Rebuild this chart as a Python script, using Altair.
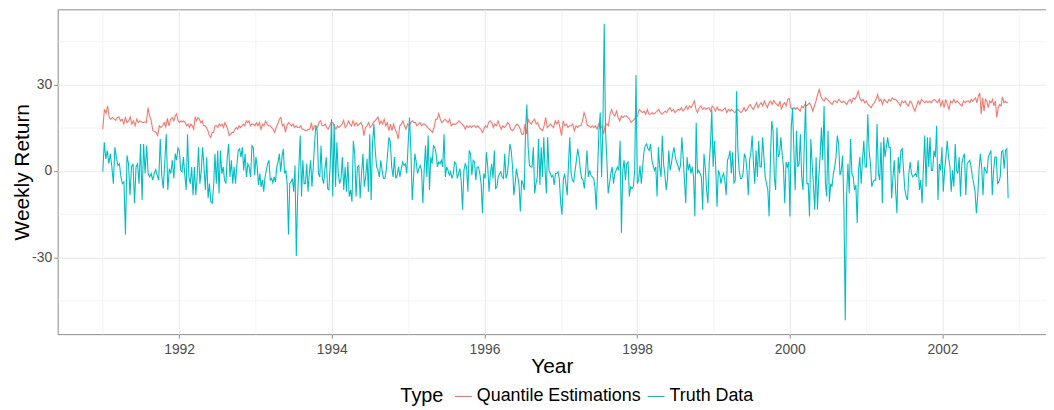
import altair as alt
import pandas as pd

# Segment start years (each segment holds roughly one year of weekly readings)
SEG_START = [1991.0, 1991.931, 1992.972, 1994.013, 1995.054, 1996.095,
             1997.135, 1998.176, 1999.217, 2000.258, 2001.299, 2002.340]
LAST_YEAR = 2002.86

TRUTH_SEGS = [
    [-0.3, 10.0, 4.2, 7.1, 2.5, 6.0, 1.4, -4.4, 8.2, 4.8, 1.9, 2.5, -2.1, -4.4, -3.8, -22.1, 5.4, 2.5, -8.4, 1.4,
     2.5, -11.2, 1.4, 2.5, -4.4, 9.4, -10.1, 9.4, -0.9, 8.8, -0.9, -2.1, -0.9, -3.2, -0.9, 0.5, -1.5, -3.2, 11.1,
     -1.5, -6.1, 3.1, 12.8, -6.6, 0.8, -0.9, 3.7],
    [-2.6, 6.0, 3.7, 8.0, 7.1, 0.2, -0.3, 4.8, -1.5, -6.6, 12.8, -2.1, -4.4, 1.4, -8.4, 1.4, -8.4, -2.1, 8.2, -4.4,
     0.2, 8.2, 1.4, -6.6, 4.8, -9.5, -4.4, -10.7, -11.2, -5.5, 6.0, -4.4, 7.1, -7.8, 7.1, -0.9, 1.4, -3.2, -4.4, 4.8,
     9.4, -2.1, 3.7, -4.4, 1.4, -4.4, 1.9, 7.1, 7.7, 4.8, 8.2, 0.2, 6.0, -2.1, 2.5, 1.4, -2.1, 8.8],
    [8.2, -1.5, 4.8, 1.4, -4.9, -0.9, -5.5, -3.2, -7.2, -2.1, 0.2, 2.5, 3.7, -3.2, -2.6, -4.1, -2.1, -3.8, 1.4, 3.1,
     6.0, -0.3, 4.8, 7.7, -0.9, 0.2, -4.4, -22.1, -4.4, -3.8, -2.6, -7.2, 1.9, -29.6, -8.9, 1.4, 12.3, -8.9, 3.7, -4.4,
     -4.4, 2.5, -7.2, -0.9, 3.7, -5.5, 1.4, 9.4, 15.7, 14.0, -0.9, -2.1, 8.8, -2.6, -4.4, 0.8, 4.8, -6.1, -6.6, 1.9, 18.0],
    [-8.9, 16.3, -5.5, 10.0, -0.9, -4.4, -2.6, 4.8, -6.6, 1.4, -7.2, 3.1, -8.9, -6.6, -10.7, 10.5, 6.0, -8.9, 1.4, 1.9,
     -9.5, -0.9, 6.0, -5.5, -2.1, 4.2, -7.2, 12.8, -10.1, 9.4, 16.3, 7.1, 1.4, 0.2, -2.1, 3.7, 0.2, -2.6, -2.6, 0.2,
     6.0, 11.7, 10.0, 1.4, -2.1, 4.8, -2.6, -1.5, 1.4, -2.1, 0.8, 3.1, 1.9, 2.5, -0.9, 9.4, 18.6, 7.1],
    [-10.1, -2.1, 6.0, 3.1, -0.9, 0.8, 1.9, 0.2, -11.2, 0.2, 8.8, -2.1, 12.3, -6.6, 4.8, 2.5, 8.8, 8.2, 6.0, 1.4,
     3.1, 2.5, 3.7, 1.4, 12.8, -2.1, 1.4, 0.2, -1.5, -0.3, -2.6, -0.9, 3.1, 2.5, -2.6, -0.9, 0.8, -3.8, -13.5, 0.2,
     2.5, 1.4, -7.2, 7.1, 6.0, -1.5, 3.7, 3.1, -3.2, 1.4, 1.4, -0.9, -4.4, -14.7, -0.9, -2.6, 6.5, 1.4, -7.2, -0.9],
    [2.5, -2.6, 7.1, -6.1, -5.5, -2.1, -0.9, -0.3, -2.1, -2.6, 6.0, -2.6, -0.9, 3.7, 9.4, 7.1, 1.4, -8.4, -4.4, 0.8,
     -2.1, -4.9, -14.1, -3.2, -4.4, -6.6, 14.0, 23.1, 8.2, 1.9, 1.4, 1.4, 8.2, -7.8, -4.4, -2.1, 11.1, -4.9, 8.2, -2.1,
     11.7, 0.2, -7.8, 11.7, 0.2, -0.9, -2.1, -1.5, -4.9, -0.9, -0.9, -0.3, -3.2, -11.2, -15.2, -3.2, -0.9, -4.4, -8.4,
     2.5, 11.7],
    [-0.9, -3.2, -3.8, 0.2, 3.7, 7.7, 4.8, 0.2, -2.6, -3.2, -6.1, 0.2, 7.1, -2.1, 0.2, -1.5, -2.1, -2.6, -5.5, -13.5,
     0.2, 14.0, 20.3, -2.1, 15.1, 51.2, 14.0, 3.7, -7.8, -4.4, -0.9, 1.4, -4.4, -0.9, 0.2, 1.4, 0.2, 10.5, -21.5, 0.2,
     3.7, -3.2, 2.5, 3.1, -8.9, -5.5, -6.1, -5.5, 0.2, 33.4, -4.4, -3.2, 1.9, -4.4, 1.4, 6.5, 8.8, 9.4, 7.7, 7.1],
    [9.4, 3.7, 1.9, 0.2, 1.4, -8.9, 8.2, 1.4, -2.1, 12.3, 2.5, -1.5, -6.6, -2.6, 7.1, 0.2, 2.5, 6.0, 8.2, 4.8,
     3.1, 1.9, 0.2, 1.9, 11.7, 4.8, -3.2, -11.2, 4.8, 0.2, 2.5, -0.9, 1.4, -2.1, -15.8, 16.8, -0.9, 0.2, -0.9, -2.1,
     -13.5, 6.0, 1.4, -6.6, -11.2, 2.5, 9.4, 21.4, 1.4, 10.5, 1.4, -12.4, 0.2, -0.9, -4.4, -2.1, -0.9, -3.2, -8.4, 3.7, 4.8],
    [7.1, -0.9, 6.5, -4.4, -3.2, 27.7, 7.7, 0.2, -2.6, -2.6, -0.9, 6.0, 4.8, 0.2, -8.4, 3.7, 6.5, 12.3, 2.5, -4.4,
     7.1, -2.1, 10.5, 1.4, 1.4, 11.7, 4.8, -2.1, -4.4, -6.6, -15.8, 3.7, 17.4, 14.0, -2.1, -6.6, 15.1, 4.8, 6.0, 11.7,
     6.0, 1.4, -11.2, 3.1, 1.4, 3.1, -15.8, 15.1, 22.0, 7.1, -6.6, 14.0, 1.4, 2.5, 12.8, -2.1, -6.6, 9.4, 24.3, -4.4, -4.4],
    [-15.8, 11.1, 2.5, -5.5, -13.5, 4.8, -13.5, -2.1, 4.8, 15.1, 3.7, 22.6, -4.4, -8.9, 14.0, -10.7, -4.4, -5.5, -0.9,
     1.4, 4.8, 12.3, 9.4, -1.5, 0.2, 5.4, -13.5, -51.9, -8.9, 2.5, -7.8, 11.1, -0.9, -2.1, -6.6, -4.9, -18.1, 0.2, 4.8,
     -4.4, 3.7, 10.5, 1.4, 1.4, 19.7, 7.1, 2.5, -5.5, -3.8, -3.2, -3.2, 16.3, -0.9, -3.2, 10.0, -11.2, 11.7, 4.8, 8.2, 11.7],
    [8.2, 8.2, -9.5, -2.1, 3.7, -6.6, -14.7, 4.8, -0.9, 7.1, 7.7, 0.2, -6.6, -8.9, -10.1, -0.9, 3.1, -0.9, -2.1, -1.5,
     -0.9, -2.1, 3.7, -6.6, -3.2, -11.2, 1.4, 12.3, -5.5, 11.7, 1.4, 11.7, 0.2, 0.2, 7.1, 4.8, 15.7, -10.1, 2.5, 0.2,
     8.2, -7.2, 0.2, 4.8, 10.5, 4.8, 1.4, -7.2, 0.2, -5.5, 9.4, 0.2, -0.9, 4.8, -8.9, 2.5, 4.8, 6.0, -8.4, 2.5],
    [3.1, 3.7, 1.4, -2.1, -4.4, -7.2, -14.7, -8.9, 0.2, 6.0, 1.4, -8.4, 1.4, 0.2, -0.9, 4.8, 6.0, 7.1, -8.4, 0.2,
     4.8, 4.8, -4.4, -3.8, -2.1, 6.5, 7.1, 0.8, 7.1, 7.7, -9.5],
]

QUANT_SEGS = [
    [14.5, 21.4, 20.0, 22.6, 18.5, 18.0, 18.6, 18.0, 17.6, 18.6, 18.8, 17.4, 18.0, 16.3, 18.6, 16.8, 17.4, 18.8, 16.3,
     17.4, 15.7, 18.0, 16.8, 17.4, 17.1, 16.8, 17.1, 16.8, 22.0, 19.1, 17.4, 14.0, 13.7, 13.4, 12.3, 15.7, 15.1, 15.7,
     16.8, 15.3, 18.3, 15.7, 18.0, 18.6],
    [17.4, 19.1, 19.9, 17.4, 16.8, 17.4, 17.1, 17.4, 16.8, 15.7, 16.3, 15.1, 16.3, 15.7, 14.5, 18.6, 17.4, 18.6, 18.0,
     16.8, 17.4, 15.7, 15.7, 15.1, 14.0, 12.3, 11.7, 13.4, 13.4, 15.7, 15.7, 15.1, 16.3, 15.7, 16.3, 15.1, 16.8, 15.7,
     14.5, 12.3, 12.8, 13.4, 13.4, 14.5, 15.1, 14.5, 15.7, 15.1, 15.7, 16.3, 15.7, 17.4, 16.8, 17.4, 15.7, 16.3],
    [16.3, 15.7, 16.8, 15.7, 16.8, 14.5, 16.3, 15.7, 17.4, 16.3, 15.7, 15.7, 15.1, 14.5, 13.4, 15.1, 16.3, 18.0, 18.6,
     15.7, 16.3, 13.4, 15.7, 16.8, 16.3, 15.7, 16.3, 15.1, 15.7, 15.1, 15.1, 15.7, 14.5, 14.5, 14.0, 14.0, 14.5, 14.5,
     16.8, 14.0, 15.7, 15.7, 15.1, 16.8, 17.4, 15.7, 15.7, 16.3, 15.1, 14.5, 15.7, 16.8],
    [16.8, 15.7, 14.5, 15.7, 15.1, 15.7, 16.3, 17.6, 15.1, 15.7, 17.4, 16.3, 15.7, 17.4, 15.7, 16.8, 15.7, 16.3, 16.8,
     15.7, 12.3, 15.1, 15.7, 16.8, 15.1, 15.7, 16.8, 17.4, 18.0, 18.8, 16.3, 17.4, 16.3, 18.0, 15.7, 16.8, 14.0, 16.3,
     14.0, 16.3, 14.5, 13.4, 11.1, 15.7, 16.3, 17.4, 15.7, 14.5, 16.3, 15.7, 16.8],
    [17.4, 16.8, 16.8, 15.7, 16.3, 16.8, 15.7, 16.3, 16.3, 15.7, 15.1, 14.5, 14.0, 13.4, 15.1, 18.0, 18.0, 19.9, 18.0,
     16.8, 17.4, 18.0, 17.4, 16.8, 18.0, 15.7, 16.3, 16.3, 16.3, 16.8, 17.4, 16.8, 16.3, 15.7, 14.5, 15.7, 15.1, 15.7,
     15.1, 15.7, 15.7, 15.1, 15.7, 15.1, 14.5, 13.4, 14.5, 15.7, 15.1, 16.8, 17.4],
    [16.8, 15.1, 16.3, 15.7, 17.4, 15.7, 14.5, 15.7, 15.1, 15.7, 16.8, 16.3, 14.5, 14.0, 14.5, 15.7, 16.3, 15.7, 14.5,
     12.8, 12.8, 16.3, 12.8, 18.0, 16.8, 16.3, 17.4, 18.0, 16.3, 16.8, 15.1, 14.5, 14.0, 15.7, 18.6, 15.1, 15.7, 16.3,
     15.7, 15.1, 17.4, 16.3, 17.4, 15.1, 12.3, 17.4, 15.7, 16.3, 15.1, 15.7],
    [15.7, 16.3, 14.0, 15.7, 15.1, 15.7, 15.7, 17.4, 20.3, 18.6, 15.7, 15.7, 15.1, 15.7, 15.1, 15.7, 14.5, 16.3, 14.5,
     15.7, 12.8, 15.7, 16.3, 15.7, 19.7, 21.4, 19.7, 19.1, 20.8, 18.6, 17.4, 19.1, 18.6, 19.1, 19.1, 18.6, 18.0, 16.8,
     17.4, 18.0, 18.6, 19.1, 21.4, 20.8, 20.3, 20.8, 19.7, 21.4, 19.7],
    [19.7, 20.3, 19.7, 20.3, 20.8, 21.4, 20.3, 19.7, 20.3, 20.8, 20.3, 21.4, 22.0, 20.8, 21.4, 20.3, 20.8, 21.4, 21.1,
     22.0, 20.8, 21.4, 22.6, 21.4, 22.6, 22.0, 23.1, 24.3, 21.4, 20.3, 22.0, 22.6, 21.4, 22.0, 21.4, 21.8, 22.0, 20.8,
     22.6, 22.0, 20.8, 22.2, 21.1, 21.4, 20.8, 21.4, 22.0, 20.3, 21.4],
    [20.8, 21.4, 20.8, 20.3, 20.8, 21.4, 20.8, 20.3, 20.8, 22.0, 20.8, 21.4, 22.6, 23.1, 22.0, 21.4, 22.6, 23.7, 22.0,
     23.1, 23.7, 22.6, 24.3, 23.1, 22.0, 23.7, 24.3, 23.1, 24.5, 23.7, 23.1, 22.6, 24.3, 21.4, 23.1, 23.7, 22.6, 24.9,
     25.2, 22.0, 21.4, 22.0, 21.4, 22.0, 21.4, 20.8, 22.6, 22.0, 23.1, 22.6, 23.1],
    [23.7, 22.6, 20.8, 22.6, 24.3, 26.6, 28.3, 26.0, 24.9, 24.3, 25.4, 24.9, 24.3, 23.7, 23.1, 24.3, 24.3, 23.7, 24.9,
     24.3, 23.7, 24.3, 23.7, 23.1, 24.3, 24.9, 23.7, 25.4, 24.9, 26.0, 27.7, 25.4, 24.3, 24.9, 23.7, 24.3, 23.1, 22.6,
     22.0, 23.1, 23.7, 24.9, 26.6, 24.3, 24.9, 23.1, 24.9, 24.3, 23.7],
    [24.9, 24.3, 25.4, 24.9, 24.9, 24.3, 23.7, 22.6, 24.3, 23.7, 24.3, 23.1, 22.6, 24.3, 23.7, 22.0, 20.8, 22.6, 24.3,
     23.1, 24.9, 24.3, 23.7, 24.3, 23.7, 24.3, 23.7, 24.5, 24.9, 24.3, 23.7, 24.9, 22.6, 24.3, 22.0, 24.9, 23.1, 21.4,
     24.3, 23.7, 24.9, 23.7, 24.3, 23.7, 23.1, 22.6, 24.3, 23.7, 24.3],
    [24.3, 23.7, 24.9, 24.3, 24.9, 25.4, 23.7, 26.0, 27.1, 19.7, 25.4, 20.8, 24.9, 24.3, 22.0, 24.3, 23.7, 24.9, 22.6,
     24.3, 18.6, 22.0, 23.1, 22.6, 25.8, 23.7, 24.3, 23.7, 23.7],
]

TYPES = ["Quantile Estimations", "Truth Data"]
COLORS = ["#F8766D", "#00BFC4"]


def expand(segs, label):
    rows = []
    ends = SEG_START[1:] + [LAST_YEAR]
    for i, vals in enumerate(segs):
        a, b = SEG_START[i], ends[i]
        n = len(vals)
        denom = n - 1 if i == len(segs) - 1 else n
        for k, v in enumerate(vals):
            rows.append({"year": a + (b - a) * k / denom, "value": v, "Type": label})
    return rows


df = pd.DataFrame(expand(QUANT_SEGS, TYPES[0]) + expand(TRUTH_SEGS, TYPES[1]))

FONT = "Liberation Sans"

x_axis = alt.Axis(
    title="Year",
    values=list(range(1991, 2004)),
    labelExpr="datum.value % 2 == 0 ? '' + datum.value : ''",
    gridColor="#EBEBEB",
    gridWidth={"condition": {"test": "datum.value % 2 == 0", "value": 1.1}, "value": 0.55},
    tickOpacity={"condition": {"test": "datum.value % 2 == 0", "value": 1}, "value": 0},
    labelPadding=4,
    titlePadding=0,
)
y_axis = alt.Axis(
    title="Weekly Return",
    values=[-45, -30, -15, 0, 15, 30, 45],
    labelExpr="datum.value % 30 == 0 ? '' + datum.value : ''",
    gridColor="#EBEBEB",
    gridWidth={"condition": {"test": "datum.value % 30 == 0", "value": 1.1}, "value": 0.55},
    tickOpacity={"condition": {"test": "datum.value % 30 == 0", "value": 1}, "value": 0},
    labelPadding=2,
    titlePadding=-1,
)

chart = (
    alt.Chart(df)
    .mark_line(strokeWidth=1.1, clip=True)
    .encode(
        x=alt.X("year:Q", scale=alt.Scale(domain=[1990.409, 2003.356], nice=False, zero=False), axis=x_axis),
        y=alt.Y("value:Q", scale=alt.Scale(domain=[-56.75, 56.2], nice=False, zero=False), axis=y_axis),
        color=alt.Color(
            "Type:N",
            scale=alt.Scale(domain=TYPES, range=COLORS),
            legend=alt.Legend(
                orient="none", legendX=345, legendY=380, direction="horizontal",
                title="Type", titleOrient="left", titleFontSize=20, titleFontWeight="normal",
                titleColor="#000000", titleFont=FONT, titleBaseline="middle", titlePadding=10,
                labelFontSize=18, labelFont=FONT, labelColor="#000000", labelLimit=400,
                symbolType="stroke", symbolSize=289, symbolStrokeWidth=1.2,
                columnPadding=3, labelOffset=4,
            ),
        ),
    )
    .properties(
        width=995, height=327,
        autosize=alt.AutoSizeParams(type="none"),
        padding={"left": 50, "top": 0, "right": 0, "bottom": 73},
    )
    .configure_view(stroke="#8C8C8C", strokeWidth=1)
    .configure_axis(
        domain=False, labelFont=FONT, titleFont=FONT, labelFontSize=14, labelColor="#4D4D4D",
        titleFontSize=21, titleFontWeight="normal", titleColor="#000000",
        tickColor="#8C8C8C", tickSize=4,
    )
)

chart.save("out.html", embed_options={"renderer": "svg", "actions": False})
